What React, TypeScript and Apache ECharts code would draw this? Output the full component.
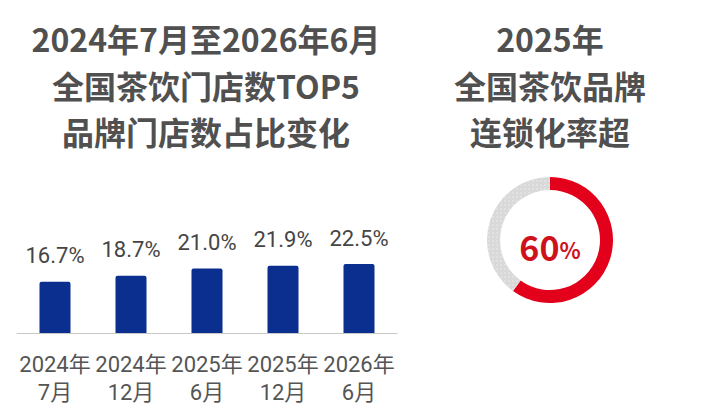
import React, { useEffect, useRef } from "react";
import * as echarts from "echarts";

const categories = ["2024年\n7月", "2024年\n12月", "2025年\n6月", "2025年\n12月", "2026年\n6月"];
const shareValues = [16.7, 18.7, 21.0, 21.9, 22.5];
const leftTitleLines = ["2024年7月至2026年6月", "全国茶饮门店数TOP5", "品牌门店数占比变化"];
const rightTitleLines = ["2025年", "全国茶饮品牌", "连锁化率超"];
const chainRate = [60, 40];

const FONT = '"Noto Sans CJK SC", "Noto Sans", sans-serif';
const LABEL_FONT = 'Roboto, "Noto Sans CJK SC", sans-serif';
const TITLE_COLOR = "#505050";

export default function App() {
  const ref = useRef<HTMLDivElement>(null);
  useEffect(() => {
    if (!ref.current) return;
    const chart = echarts.init(ref.current, null, { renderer: "svg" });
    const titleY = [38, 85, 131];
    const titles: any[] = [];
    leftTitleLines.forEach((t, i) =>
      titles.push({
        type: "text",
        x: 206,
        y: titleY[i],
        style: {
          text: t,
          fill: TITLE_COLOR,
          font: `bold 32px ${FONT}`,
          textAlign: "center",
          textVerticalAlign: "middle",
        },
      })
    );
    rightTitleLines.forEach((t, i) =>
      titles.push({
        type: "text",
        x: 550,
        y: titleY[i],
        style: {
          text: t,
          fill: TITLE_COLOR,
          font: `bold 32px ${FONT}`,
          textAlign: "center",
          textVerticalAlign: "middle",
        },
      })
    );
    titles.push({
      type: "text",
      x: 550,
      y: 246,
      style: {
        text: "{a|" + chainRate[0] + "}{b|%}",
        textAlign: "center",
        textVerticalAlign: "middle",
        rich: {
          a: { fontSize: 34, fontWeight: "bold", fontFamily: FONT, fill: "#cf111c", color: "#cf111c" },
          b: { fontSize: 22, fontWeight: "bold", fontFamily: FONT, fill: "#cf111c", color: "#cf111c", padding: [6, 0, 0, 0] },
        },
      },
    });

    chart.setOption({
      animation: false,
      backgroundColor: "#ffffff",
      graphic: titles,
      grid: { left: 17, width: 380, top: 241, height: 92 },
      xAxis: {
        type: "category",
        data: categories,
        axisLine: { lineStyle: { color: "#c8c8c8", width: 1 } },
        axisTick: { show: false },
        axisLabel: {
          interval: 0,
          hideOverlap: false,
          color: "#555555",
          fontSize: 22,
          lineHeight: 28,
          margin: 17,
          fontFamily: LABEL_FONT,
        },
      },
      yAxis: {
        type: "value",
        min: 0,
        max: 30,
        show: false,
        splitLine: { show: false },
      },
      series: [
        {
          type: "bar",
          data: shareValues,
          barWidth: 31,
          itemStyle: { color: "#0b2f8e", borderRadius: [2, 2, 0, 0] },
          label: {
            show: true,
            position: "top",
            distance: 15,
            formatter: (p: any) => p.value.toFixed(1) + "%",
            color: "#454545",
            fontSize: 22,
            fontFamily: LABEL_FONT,
          },
        },
        {
          type: "pie",
          center: [550, 240],
          radius: [50, 63],
          startAngle: 90,
          clockwise: true,
          silent: true,
          label: { show: false },
          labelLine: { show: false },
          data: [
            { value: chainRate[0], itemStyle: { color: "#e3001b" } },
            {
              value: chainRate[1],
              itemStyle: {
                color: "#d9d9d9",
                decal: {
                  symbol: "circle",
                  symbolSize: 0.6,
                  dashArrayX: 2,
                  dashArrayY: 2,
                  color: "#f2f2f2",
                },
              },
            },
          ],
        },
      ],
    });
    return () => chart.dispose();
  }, []);
  return <div ref={ref} style={{ position: "fixed", left: 0, top: 0, width: 718, height: 420 }} />;
}
